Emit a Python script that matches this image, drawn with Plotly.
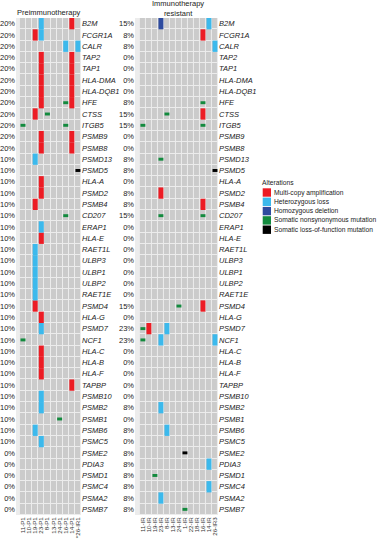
import plotly.graph_objects as go

W, H = 378, 542

genes = ["B2M", "FCGR1A", "CALR", "TAP2", "TAP1", "HLA-DMA", "HLA-DQB1", "HFE", "CTSS", "ITGB5",
         "PSMB9", "PSMB8", "PSMD13", "PSMD5", "HLA-A", "PSMD2", "PSMB4", "CD207", "ERAP1", "HLA-E",
         "RAET1L", "ULBP3", "ULBP1", "ULBP2", "RAET1E", "PSMD4", "HLA-G", "PSMD7", "NCF1", "HLA-C",
         "HLA-B", "HLA-F", "TAPBP", "PSMB10", "PSMB2", "PSMB1", "PSMB6", "PSMC5", "PSME2", "PDIA3",
         "PSMD1", "PSMC4", "PSMA2", "PSMB7"]

pre_pct = ["20%"] * 12 + ["10%"] * 26 + ["0%"] * 6
res_pct = ["15%", "8%", "8%", "0%", "0%", "0%", "0%", "8%", "15%", "15%",
           "0%", "0%", "8%", "8%", "0%", "8%", "8%", "15%", "0%", "0%",
           "0%", "0%", "0%", "0%", "0%", "15%", "0%", "23%", "23%", "0%",
           "0%", "0%", "0%", "0%", "8%", "0%", "8%", "0%", "8%", "8%",
           "8%", "8%", "8%", "8%"]

pre_samples = ["11-P1", "10-P1", "19-P1", "23-P1", "8-P1", "13-P1", "24-P1", "16-P1", "14-P1", "*26-IR1"]
res_samples = ["11-IR", "10-IR", "19-IR", "23-IR", "8-IR", "13-IR", "24-IR", "1-IR", "22-IR", "18-IR",
               "16-IR", "14-IR", "26-IR3"]

alteration_types = ["Multi-copy amplification", "Heterozygous loss", "Homozygous deletion",
                    "Somatic nonsynonymous mutation", "Somatic loss-of-function mutation"]
alteration_colors = ["#ec1c24", "#3cb9ec", "#2e4b9f", "#138a3e", "#000000"]
is_mutation = [False, False, False, True, True]

AMP, HET, DEL, MUT, LOF = alteration_types

pre_alterations = [
    ("B2M", "23-P1", HET), ("B2M", "14-P1", AMP),
    ("FCGR1A", "19-P1", AMP), ("FCGR1A", "23-P1", HET),
    ("CALR", "16-P1", HET), ("CALR", "*26-IR1", HET),
    ("TAP2", "23-P1", AMP), ("TAP2", "14-P1", AMP),
    ("TAP1", "23-P1", AMP), ("TAP1", "14-P1", AMP),
    ("HLA-DMA", "23-P1", AMP), ("HLA-DMA", "14-P1", AMP),
    ("HLA-DQB1", "23-P1", AMP), ("HLA-DQB1", "14-P1", AMP),
    ("HFE", "23-P1", AMP), ("HFE", "16-P1", MUT), ("HFE", "14-P1", AMP),
    ("CTSS", "19-P1", AMP), ("CTSS", "8-P1", MUT),
    ("ITGB5", "11-P1", MUT), ("ITGB5", "16-P1", MUT),
    ("PSMB9", "23-P1", AMP), ("PSMB9", "14-P1", AMP),
    ("PSMB8", "23-P1", AMP), ("PSMB8", "14-P1", AMP),
    ("PSMD13", "19-P1", HET),
    ("PSMD5", "*26-IR1", LOF),
    ("HLA-A", "23-P1", AMP),
    ("PSMD2", "23-P1", AMP),
    ("PSMB4", "19-P1", AMP),
    ("CD207", "16-P1", MUT),
    ("ERAP1", "23-P1", HET),
    ("HLA-E", "23-P1", AMP),
    ("RAET1L", "19-P1", HET), ("ULBP3", "19-P1", HET), ("ULBP1", "19-P1", HET),
    ("ULBP2", "19-P1", HET), ("RAET1E", "19-P1", HET),
    ("PSMD4", "19-P1", AMP),
    ("HLA-G", "23-P1", AMP),
    ("PSMD7", "23-P1", HET),
    ("NCF1", "11-P1", MUT),
    ("HLA-C", "23-P1", AMP), ("HLA-B", "23-P1", AMP), ("HLA-F", "23-P1", AMP),
    ("TAPBP", "14-P1", AMP),
    ("PSMB10", "23-P1", HET),
    ("PSMB2", "23-P1", HET),
    ("PSMB1", "24-P1", MUT),
    ("PSMB6", "19-P1", HET),
    ("PSMC5", "23-P1", HET),
]

res_alterations = [
    ("B2M", "23-IR", DEL), ("B2M", "14-IR", HET),
    ("FCGR1A", "16-IR", AMP),
    ("CALR", "26-IR3", HET),
    ("HFE", "16-IR", MUT),
    ("CTSS", "8-IR", MUT), ("CTSS", "16-IR", AMP),
    ("ITGB5", "11-IR", MUT), ("ITGB5", "16-IR", MUT),
    ("PSMD13", "23-IR", MUT),
    ("PSMD5", "26-IR3", LOF),
    ("PSMD2", "23-IR", AMP),
    ("PSMB4", "16-IR", AMP),
    ("CD207", "23-IR", MUT), ("CD207", "16-IR", MUT),
    ("PSMD4", "24-IR", MUT), ("PSMD4", "16-IR", AMP),
    ("PSMD7", "11-IR", MUT), ("PSMD7", "10-IR", AMP), ("PSMD7", "8-IR", HET),
    ("NCF1", "11-IR", MUT), ("NCF1", "23-IR", HET), ("NCF1", "26-IR3", HET),
    ("PSMB2", "23-IR", HET),
    ("PSMB6", "8-IR", HET),
    ("PSME2", "1-IR", LOF),
    ("PDIA3", "14-IR", HET),
    ("PSMD1", "19-IR", MUT),
    ("PSMC4", "14-IR", HET),
    ("PSMA2", "23-IR", HET),
    ("PSMB7", "1-IR", MUT),
]

FONT = "Liberation Sans, Arial, sans-serif"
GRAY = "#cbcbcb"
n = len(genes)
row_centers = [i + 0.5 for i in range(n)]

fig = go.Figure()

panels = [
    (pre_samples, pre_alterations, "x", "y", "y3"),
    (res_samples, res_alterations, "x2", "y2", "y4"),
]

for samples, alts, xa, ya, yg in panels:
    fig.add_trace(go.Heatmap(
        x=samples, y=row_centers, z=[[0] * len(samples) for _ in genes],
        colorscale=[[0, GRAY], [1, GRAY]], showscale=False, xgap=1, ygap=1,
        hoverinfo="skip", xaxis=xa, yaxis=ya))
    for t, c, mut in zip(alteration_types, alteration_colors, is_mutation):
        sel = [a for a in alts if a[2] == t]
        if not sel:
            continue
        h = 0.26 if mut else 1.0
        off = (1 - h) / 2
        fig.add_trace(go.Bar(
            x=[a[1] for a in sel], y=[h] * len(sel),
            base=[genes.index(a[0]) + off for a in sel],
            width=0.82, marker=dict(color=c, line=dict(width=0)),
            name=t, showlegend=False, xaxis=xa, yaxis=ya, hoverinfo="skip"))
    fig.add_trace(go.Scatter(x=[samples[0]], y=[0.5], mode="markers",
                             marker=dict(opacity=0), showlegend=False,
                             hoverinfo="skip", xaxis=xa, yaxis=yg))

ytop = 1 - 18 / H
ybot = 1 - 515 / H
xd1 = [16 / W, 81 / W]
xd2 = [135 / W, 218 / W]

common_x = dict(showgrid=False, zeroline=False, showline=False, ticks="", tickangle=-90,
                tickfont=dict(size=6.2, color="#333", family=FONT), type="category",
                automargin=False, tickmode="array")
common_y = dict(domain=[ybot, ytop], range=[n, 0], showgrid=False, zeroline=False,
                showline=False, ticks="", tickvals=row_centers, tickmode="array",
                automargin=False)

italic_genes = ["<i>%s</i>" % g for g in genes]
yfont = dict(size=7.5, color="#222", family=FONT)

fig.update_layout(
    template="none",
    width=W, height=H, autosize=False,
    margin=dict(l=0, r=0, t=0, b=0, pad=0),
    paper_bgcolor="white", plot_bgcolor="#ececec",
    barmode="overlay", showlegend=False,
    font=dict(family=FONT, color="#222"),
    xaxis=dict(domain=xd1, anchor="y", categoryorder="array", categoryarray=pre_samples,
               tickvals=pre_samples, ticktext=pre_samples, **common_x),
    xaxis2=dict(domain=xd2, anchor="y2", categoryorder="array", categoryarray=res_samples,
                tickvals=res_samples, ticktext=res_samples, **common_x),
    yaxis=dict(anchor="x", side="left", ticktext=pre_pct, tickfont=yfont, **common_y),
    yaxis2=dict(anchor="x2", side="left", ticktext=res_pct, tickfont=yfont, **common_y),
    yaxis3=dict(anchor="x", overlaying="y", side="right", ticktext=italic_genes, tickfont=yfont, **common_y),
    yaxis4=dict(anchor="x2", overlaying="y2", side="right", ticktext=italic_genes, tickfont=yfont, **common_y),
)

annotations = [
    dict(text="Preimmunotherapy", x=sum(xd1) / 2, y=1 - 12.5 / H, xref="paper", yref="paper",
         showarrow=False, font=dict(size=7.5, color="#222", family=FONT), xanchor="center", yanchor="middle"),
    dict(text="Immunotherapy<br>resistant", x=(sum(xd2) / 2) + 1.5 / W, y=1 - 8.5 / H, xref="paper", yref="paper",
         showarrow=False, font=dict(size=7.5, color="#222", family=FONT), xanchor="center", yanchor="middle"),
    dict(text="Alterations", x=261 / W, y=1 - 182.5 / H, xref="paper", yref="paper",
         showarrow=False, font=dict(size=6.7, color="#222", family=FONT), xanchor="left", yanchor="middle",
         borderpad=0),
]
shapes = []
for k, (t, c) in enumerate(zip(alteration_types, alteration_colors)):
    yc = 192.5 + 9.3 * k
    shapes.append(dict(type="rect", xref="paper", yref="paper", x0=262.7 / W, x1=271 / W,
                       y0=1 - (yc - 4.2) / H, y1=1 - (yc + 4.2) / H,
                       fillcolor=c, line=dict(width=0)))
    annotations.append(dict(text=t, x=272.5 / W, y=1 - yc / H, xref="paper", yref="paper",
                            showarrow=False, font=dict(size=6.7, color="#222", family=FONT),
                            xanchor="left", yanchor="middle", borderpad=0))

fig.update_layout(annotations=annotations, shapes=shapes)

fig.write_html("out.html", config={"displayModeBar": False, "staticPlot": True},
               post_script="document.body.style.margin='0';document.body.style.padding='0';")
